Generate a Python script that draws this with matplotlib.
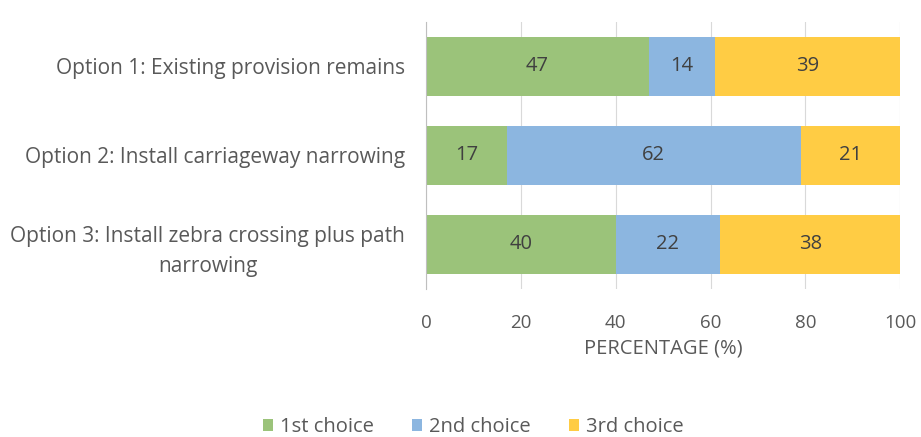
import matplotlib.pyplot as plt
import numpy as np

options = ["Option 1: Existing provision remains",
           "Option 2: Install carriageway narrowing",
           "Option 3: Install zebra crossing plus path\nnarrowing"]
first = [47, 17, 40]
second = [14, 62, 22]
third = [39, 21, 38]
series_names = ["1st choice", "2nd choice", "3rd choice"]
colours = ["#9bc37a", "#8cb6e0", "#ffcc44"]

plt.rcParams['font.family'] = ['Open Sans', 'DejaVu Sans']
txt = "#595959"

fig = plt.figure(figsize=(9.21, 4.37), dpi=100)
ax = fig.add_axes([0.4625, 0.339, 0.515, 0.611])

y = np.arange(len(options))
left = np.zeros(len(options))
for vals, name, col in zip([first, second, third], series_names, colours):
    bars = ax.barh(y, vals, left=left, height=0.66, color=col, label=name, zorder=2)
    for b, v in zip(bars, vals):
        ax.text(b.get_x() + b.get_width() / 2, b.get_y() + b.get_height() / 2, str(v),
                ha='center', va='center', fontsize=14.5, color="#404040")
    left += np.array(vals)

ax.set_xlim(0, 100)
ax.set_ylim(2.5, -0.5)
ax.set_xticks(range(0, 101, 20))
ax.set_yticks(y)
ax.set_yticklabels(options, fontsize=15, color=txt, ha='right', multialignment='center',
                   linespacing=1.6)
ax.tick_params(axis='y', length=0, pad=15)
ax.tick_params(axis='x', length=0, labelsize=13.5, labelcolor=txt, pad=18)
ax.grid(axis='x', color="#d9d9d9", linewidth=0.8, zorder=0)
for s in ["top", "right", "bottom"]:
    ax.spines[s].set_visible(False)
ax.spines["left"].set_color("#bfbfbf")
ax.set_xlabel("PERCENTAGE (%)", fontsize=14.5, color=txt, labelpad=5)

fig.legend(loc='center', bbox_to_anchor=(0.514, 0.022), ncol=3, frameon=False,
           fontsize=14.5, labelcolor=txt, handlelength=0.5, handleheight=0.5,
           handletextpad=0.35, columnspacing=1.9)

fig.savefig("out.png", dpi=100)
